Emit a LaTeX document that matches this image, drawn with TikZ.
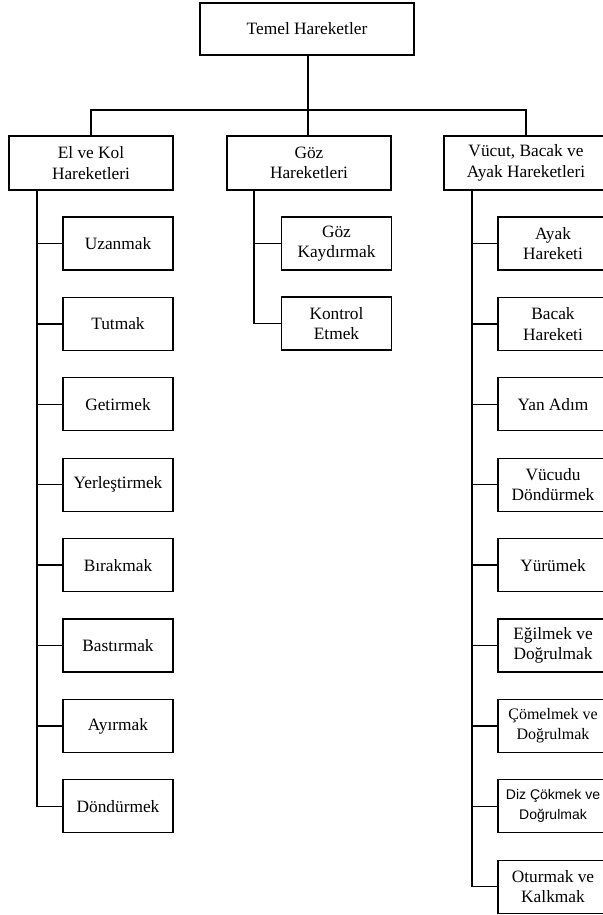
\documentclass[tikz,border=0pt]{standalone}
\usepackage{fontspec}
\setmainfont{Liberation Serif}
\newfontfamily\arialfont{Liberation Sans}
\begin{document}
\begin{tikzpicture}[x=0.75pt,y=-0.75pt,
  box/.style={draw,line width=1pt,align=center,inner sep=0pt,
    font=\fontsize{13}{15.5}\selectfont},
  topbox/.style={box,minimum width=214*0.75pt,minimum height=52*0.75pt},
  grpbox/.style={box,minimum width=164*0.75pt,minimum height=54*0.75pt},
  kidbox/.style={box,minimum width=110*0.75pt,minimum height=53*0.75pt},
  smallserif/.style={font=\fontsize{12}{15}\selectfont},
  smallsans/.style={font=\arialfont\fontsize{10.5}{15}\selectfont},
  link/.style={line width=1pt}]
\useasboundingbox (0,0) rectangle (603,915);
\clip (0,0) rectangle (603,915);
\node[topbox] (top) at (307,29) {Temel Hareketler};
\node[grpbox] (gl) at (91,163) {El ve Kol\\Hareketleri};
\node[grpbox] (gm) at (309,163) {Göz\\Hareketleri};
\node[grpbox] (gr) at (526,163) {Vücut, Bacak ve\\Ayak Hareketleri};
\coordinate (bar) at (308,110);
\draw[link] (top.south -| bar) -- (bar);
\draw[link] (gl.north) |- (bar) -| (gr.north);
\draw[link] (bar) -- (gm.north -| bar);
% left children
\foreach \t [count=\i from 0] in {Uzanmak,Tutmak,Getirmek,Yerleştirmek,Bırakmak,Bastırmak,Ayırmak,Döndürmek}{
  \node[kidbox] (l\i) at (118,243.5+80.4*\i) {\t};
}
\draw[link] (gl.south -| 37,0) |- (l7.west);
\foreach \i in {0,...,6}{\draw[link] (l\i.west) -- (l\i.west -| 37,0);}
% middle children
\node[kidbox] (m0) at (336.5,243.5) {Göz\\Kaydırmak};
\node[kidbox] (m1) at (336.5,323.5) {Kontrol\\Etmek};
\draw[link] (gm.south -| 254,0) |- (m1.west);
\draw[link] (m0.west) -- (m0.west -| 254,0);
% right children
\foreach \t [count=\i from 0] in {Ayak\\Hareketi,Bacak\\Hareketi,Yan Adım,Vücudu\\Döndürmek,Yürümek,Eğilmek ve\\Doğrulmak}{
  \node[kidbox] (r\i) at (553,243.5+80.4*\i) {\t};
}
\node[kidbox,smallserif] (r6) at (553,243.5+80.4*6) {Çömelmek ve\\Doğrulmak};
\node[kidbox,smallsans] (r7) at (553,243.5+80.4*7) {Diz Çökmek ve\\Doğrulmak};
\node[kidbox] (r8) at (553,243.5+80.4*8) {Oturmak ve\\Kalkmak};
\draw[link] (gr.south -| 472,0) |- (r8.west);
\foreach \i in {0,...,7}{\draw[link] (r\i.west) -- (r\i.west -| 472,0);}
\end{tikzpicture}
\end{document}
